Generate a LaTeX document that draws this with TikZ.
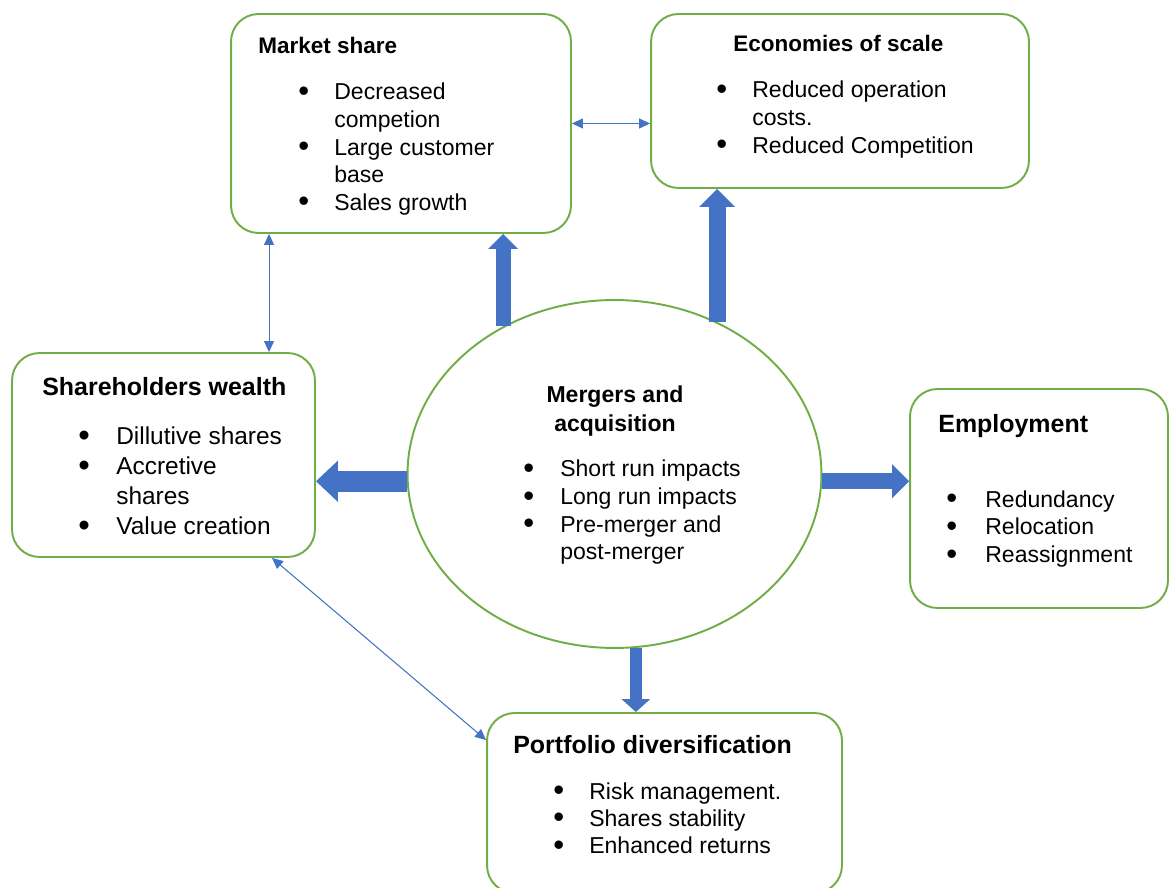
\documentclass[tikz,border=0pt]{standalone}
\usepackage{fontspec}
\usepackage{graphicx}
\setmainfont{Liberation Sans}
\usetikzlibrary{arrows.meta,shapes.geometric}

\definecolor{vertbord}{HTML}{70AD47}
\definecolor{bleufl}{HTML}{4472C4}

% puce et retrait
\newlength{\pucel}
\setlength{\pucel}{0.72cm}
\newcommand{\puce}{\makebox[\pucel][l]{\smash{\raisebox{-0.07em}{\scalebox{1.35}{\textbullet}}}}}
\newcommand{\retrait}{\hspace*{\pucel}}

\begin{document}
\begin{tikzpicture}[x=0.02cm, y=-0.02cm,
  cadre/.style={draw=vertbord, line width=1.1pt, rounded corners=0.55cm, inner sep=0pt},
  rond/.style={draw=vertbord, line width=1.1pt, ellipse, inner sep=0pt},
  titre/.style={anchor=base west, inner sep=0pt, font=\bfseries\fontsize{12.8}{15.4}\selectfont},
  grandtitre/.style={anchor=base west, inner sep=0pt, font=\bfseries\fontsize{14.2}{17}\selectfont},
  liste/.style={anchor=base west, inner sep=0pt, font=\fontsize{13.1}{15.7}\selectfont},
  bloc/.style n args={3}{draw=bleufl, line width=#1, -{Triangle[width=#2, length=#3]}},
  lien/.style={bleufl, line width=0.6pt, {Triangle[width=0.2cm, length=0.22cm]}-{Triangle[width=0.2cm, length=0.22cm]}}]

\useasboundingbox (0,0) rectangle (1170,888);

% Les cadres
\node[cadre, minimum width=6.8cm, minimum height=4.38cm] (ms) at (401,123.5) {};
\node[cadre, minimum width=7.56cm, minimum height=3.48cm] (ec) at (840,101) {};
\node[cadre, minimum width=6.06cm, minimum height=4.08cm] (sw) at (163.5,455) {};
\node[cadre, minimum width=5.16cm, minimum height=4.38cm] (em) at (1039,498.5) {};
\node[cadre, minimum width=7.1cm, minimum height=3.6cm] (pf) at (664.5,803) {};
\node[rond, minimum width=8.28cm, minimum height=6.96cm] (ma) at (614.5,474) {};

% Les textes des cadres
\node[titre] (msT) at (258,54) {Market share};
\node[liste] (msL) at (298,100) {\begin{tabular}[t]{@{}l@{}}
  \puce Decreased\\ \retrait competion\\ \puce Large customer\\ \retrait base\\ \puce Sales growth\end{tabular}};

\node[titre] (ecT) at (733,52) {Economies of scale};
\node[liste] (ecL) at (716,98) {\begin{tabular}[t]{@{}l@{}}
  \puce Reduced operation\\ \retrait costs.\\ \puce Reduced Competition\end{tabular}};

\node[grandtitre] (swT) at (42,396) {Shareholders wealth};
\node[liste, font=\fontsize{13.9}{17}\selectfont] (swL) at (78,445) {\setlength{\pucel}{0.76cm}\begin{tabular}[t]{@{}l@{}}
  \puce Dillutive shares\\ \puce Accretive\\ \retrait shares\\ \puce Value creation\end{tabular}};

\node[grandtitre] (emT) at (938,433) {Employment};
\node[liste, font=\fontsize{13.1}{15.9}\selectfont] (emL) at (946,507) {\setlength{\pucel}{0.78cm}\begin{tabular}[t]{@{}l@{}}
  \puce Redundancy\\ \puce Relocation\\ \puce Reassignment\end{tabular}};

\node[grandtitre] (pfT) at (513,753) {Portfolio diversification};
\node[liste, font=\fontsize{13.1}{15.5}\selectfont] (pfL) at (553,799) {\begin{tabular}[t]{@{}l@{}}
  \puce Risk management.\\ \puce Shares stability\\ \puce Enhanced returns\end{tabular}};

\node[titre, anchor=base, align=center, font=\bfseries\fontsize{13.1}{17}\selectfont] (maT) at (615,432) {Mergers and\\acquisition};
\node[liste] (maL) at (523,477) {\setlength{\pucel}{0.74cm}\begin{tabular}[t]{@{}l@{}}
  \puce Short run impacts\\ \puce Long run impacts\\ \puce Pre-merger and\\ \retrait post-merger\end{tabular}};

% Les grosses flèches
\draw[bloc={0.3cm}{0.58cm}{0.3cm}] (ma.127) -- (ma.127 |- ms.south);
\draw[bloc={0.34cm}{0.7cm}{0.36cm}] (ma.56) -- (ma.56 |- ec.south);
\draw[bloc={0.42cm}{0.8cm}{0.44cm}] (ma.182) -- (ma.182 -| sw.east);
\draw[bloc={0.32cm}{0.66cm}{0.34cm}] (ma.358) -- (ma.358 -| em.west);
\draw[bloc={0.24cm}{0.56cm}{0.26cm}] (ma.277) -- (ma.277 |- pf.north);

% Les liens fins
\draw[lien] (ms.east) -- (ms.east -| ec.west);
\draw[lien] ([xshift=-2.64cm]ms.south) -- ([xshift=-2.64cm]ms.south |- sw.north);
\draw[lien] ([xshift=2.17cm]sw.south) -- ([yshift=1.26cm]pf.west);

\end{tikzpicture}
\end{document}
